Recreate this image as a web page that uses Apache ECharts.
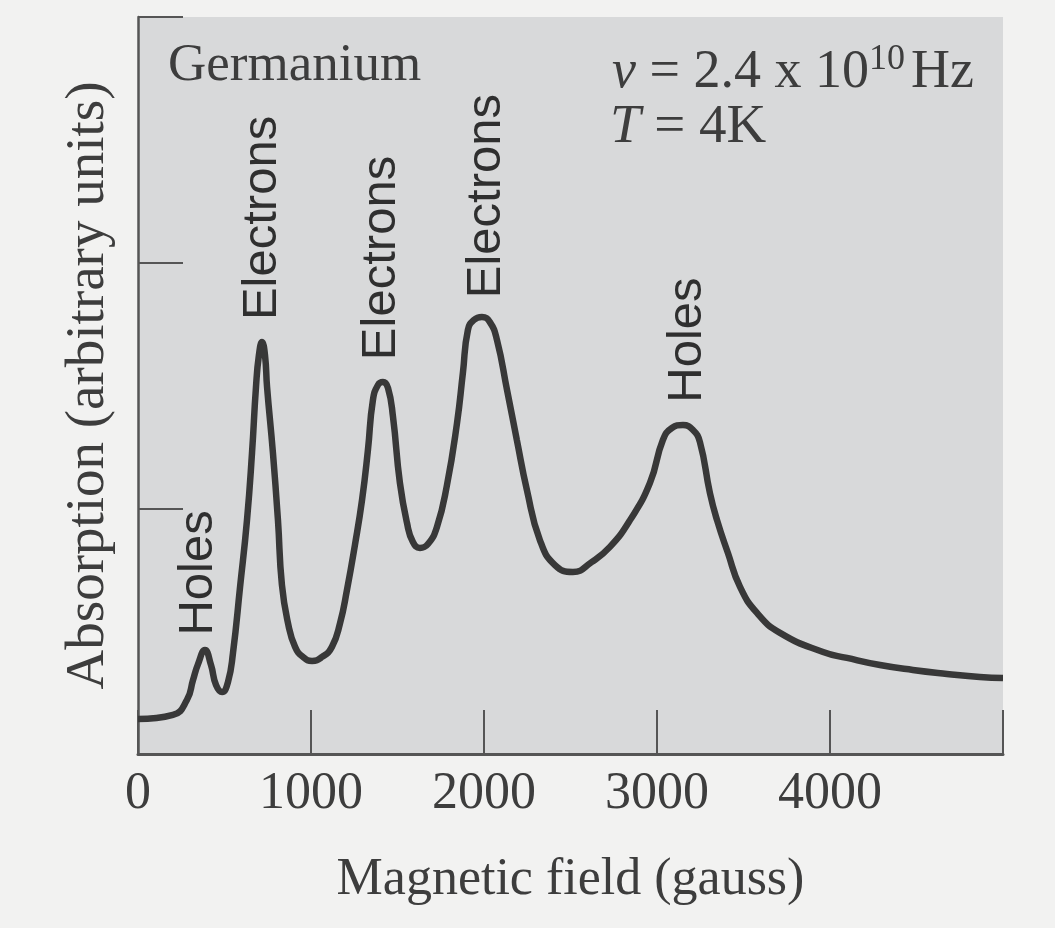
<!DOCTYPE html>
<html>
<head>
<meta charset="utf-8">
<script src="https://cdn.jsdelivr.net/npm/echarts@6/dist/echarts.min.js"></script>
<style>
html,body{margin:0;padding:0;background:#f2f2f1;}
#c{width:1055px;height:928px;}
</style>
</head>
<body>
<div id="c"></div>
<script>
// Magnetic field (gauss)
const fieldGauss = [0,202,283,318,347,387,422,451,486,520,549,590,630,659,682,699,717,734,746,780,809,832,867,908,954,1006,1064,1121,1168,1208,1254,1295,1329,1358,1387,1416,1445,1474,1514,1555,1589,1630,1676,1728,1786,1844,1878,1907,1942,1988,2034,2075,2133,2190,2248,2323,2410,2514,2624,2728,2844,2959,3034,3086,3150,3208,3248,3306,3347,3410,3480,3578,3711,3960,4098,4289,4479,4676,4866,5000];
// Absorption (arbitrary units)
const absorption = [0.142,0.159,0.220,0.301,0.366,0.423,0.362,0.281,0.252,0.293,0.411,0.680,0.952,1.225,1.494,1.624,1.677,1.624,1.494,1.225,0.952,0.688,0.533,0.436,0.395,0.379,0.395,0.436,0.533,0.668,0.851,1.034,1.237,1.441,1.502,1.514,1.490,1.372,1.103,0.940,0.863,0.839,0.855,0.924,1.095,1.347,1.551,1.726,1.767,1.779,1.758,1.685,1.482,1.278,1.075,0.871,0.769,0.741,0.782,0.843,0.952,1.103,1.278,1.327,1.339,1.319,1.270,1.062,0.952,0.818,0.680,0.574,0.493,0.415,0.391,0.362,0.342,0.326,0.313,0.309];
// Peak labels
const peakLabels = ['Holes','Electrons','Electrons','Electrons','Holes'];
const peakLabelX = [347,717,1405,2012,3179];
const peakLabelY = [0.737,2.182,2.019,2.271,1.685];
// Axis ticks
const xTicks = [0,1000,2000,3000,4000,5000];
const xTickLabels = ['0','1000','2000','3000','4000',''];

const serif = '"Liberation Serif", "DejaVu Serif", serif';
const sans = '"Liberation Sans", Arial, sans-serif';
const ink = '#3d3d3d';

const chart = echarts.init(document.getElementById('c'));
chart.setOption({
  backgroundColor: '#f2f2f1',
  animation: false,
  grid: {left: 138, right: 52, top: 17, bottom: 174, show: true, backgroundColor: '#d8d9da', borderWidth: 0},
  xAxis: {
    type: 'value', min: 0, max: 5000, interval: 1000,
    name: 'Magnetic field (gauss)', nameLocation: 'middle', nameGap: 100,
    nameTextStyle: {fontFamily: serif, fontSize: 52, color: ink},
    axisLine: {show: true, lineStyle: {color: '#555', width: 3}},
    axisTick: {show: true, inside: true, length: 44, lineStyle: {color: '#555', width: 2}},
    axisLabel: {margin: 14, fontFamily: serif, fontSize: 52, color: ink,
      formatter: v => xTickLabels[xTicks.indexOf(v)] ?? ''},
    splitLine: {show: false}
  },
  yAxis: {
    type: 'value', min: 0, max: 3, interval: 1,
    name: 'Absorption (arbitrary units)', nameLocation: 'middle', nameGap: 22,
    nameTextStyle: {fontFamily: serif, fontSize: 55, color: ink},
    axisLine: {show: true, lineStyle: {color: '#555', width: 2.5}},
    axisTick: {show: true, inside: true, length: 45, lineStyle: {color: '#555', width: 2}},
    axisLabel: {show: false},
    splitLine: {show: false}
  },
  series: [
    {
      type: 'line', smooth: 0.5, symbol: 'none',
      data: fieldGauss.map((x, i) => [x, absorption[i]]),
      lineStyle: {color: '#383838', width: 6.5}
    },
    {
      type: 'scatter', symbolSize: 1, silent: true, z: 5,
      data: peakLabels.map((t, i) => [peakLabelX[i], peakLabelY[i], t]),
      itemStyle: {color: 'rgba(0,0,0,0)'},
      label: {show: true, position: 'inside', rotate: 90, align: 'center', verticalAlign: 'middle',
        formatter: p => p.data[2], fontFamily: sans, fontSize: 49, color: '#2f2f2f', opacity: 1}
    }
  ],
  graphic: [
    {type: 'text', left: 168, top: 40, style: {text: 'Germanium', font: '53px ' + serif, fill: ink}},
    {type: 'text', left: 612, top: 42, style: {
      text: '{i|ν} = 2.4 x 10{s|10}Hz',
      font: '54px ' + serif, fill: ink,
      rich: {i: {fontStyle: 'italic', fontFamily: serif, fontSize: 54, fill: ink},
             s: {fontSize: 36, verticalAlign: 'top', fontFamily: serif, fill: ink, padding: [0,6,26,0]}}
    }},
    {type: 'text', left: 610, top: 100, style: {
      text: '{i|T} = 4K', font: '55px ' + serif, fill: ink,
      rich: {i: {fontStyle: 'italic', fontFamily: serif, fontSize: 55, fill: ink}}
    }}
  ]
});
</script>
</body>
</html>
